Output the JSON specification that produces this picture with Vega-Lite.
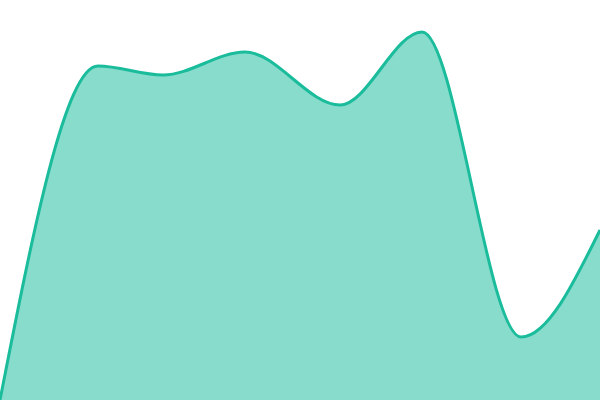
{
  "$schema": "https://vega.github.io/schema/vega-lite/v6.json",
  "width": 600,
  "height": 400,
  "padding": 0,
  "autosize": {"type": "none"},
  "background": "white",
  "config": {"view": {"stroke": null}},
  "data": {"values": [
    {"x": 0, "y": 0},
    {"x": 98, "y": 334},
    {"x": 163, "y": 325},
    {"x": 245, "y": 348},
    {"x": 340, "y": 295},
    {"x": 422, "y": 368},
    {"x": 521, "y": 63},
    {"x": 600, "y": 170}
  ]},
  "mark": {"type": "area", "interpolate": "monotone", "color": "#1abc9c", "fillOpacity": 0.52, "line": {"color": "#1abc9c", "strokeWidth": 3}},
  "encoding": {
    "x": {"field": "x", "type": "quantitative", "scale": {"domain": [0, 600], "nice": false, "zero": false}, "axis": null},
    "y": {"field": "y", "type": "quantitative", "scale": {"domain": [0, 400], "nice": false}, "axis": null}
  }
}
